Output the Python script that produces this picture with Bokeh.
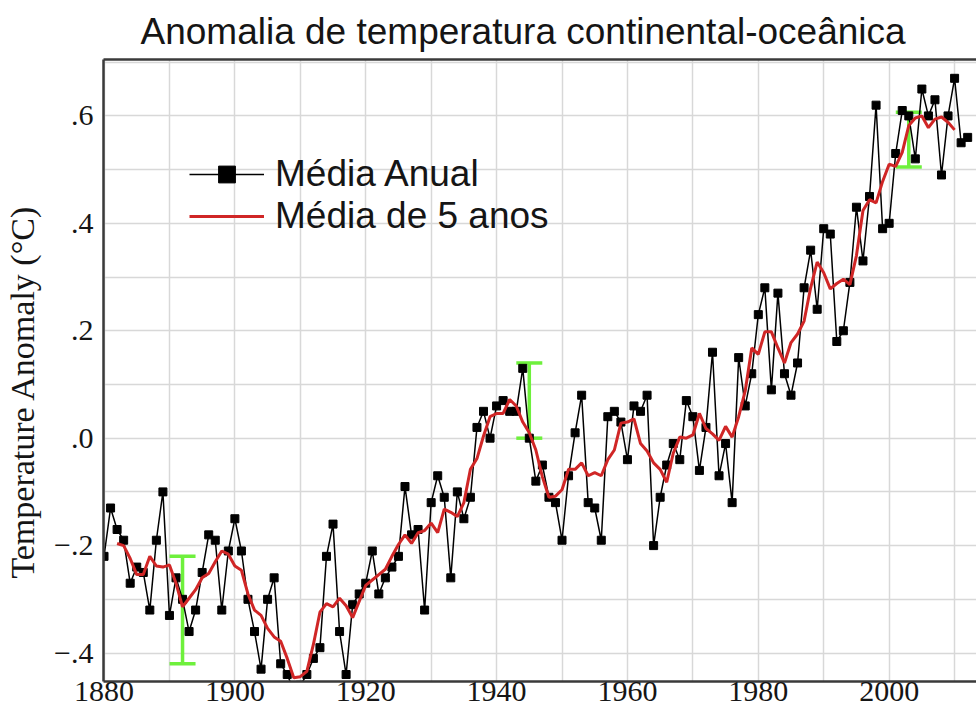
from bokeh.plotting import figure
from bokeh.models import (ColumnDataSource, Range1d, FixedTicker, Legend,
                          LegendItem, Whisker, TeeHead, LinearAxis)
from bokeh.embed import file_html
from bokeh.resources import INLINE

# ---------------- data ----------------
years = list(range(1880, 2013))
annual = [
    -0.22, -0.13, -0.17, -0.19, -0.27, -0.24, -0.25, -0.32, -0.19, -0.10,
    -0.33, -0.26, -0.30, -0.36, -0.32, -0.25, -0.18, -0.19, -0.32, -0.21,
    -0.15, -0.21, -0.30, -0.36, -0.43, -0.30, -0.26, -0.42, -0.44, -0.47,
    -0.46, -0.44, -0.41, -0.39, -0.22, -0.16, -0.36, -0.44, -0.31, -0.29,
    -0.27, -0.21, -0.29, -0.26, -0.24, -0.22, -0.09, -0.18, -0.17, -0.32,
    -0.12, -0.07, -0.11, -0.26, -0.10, -0.15, -0.11, 0.02, 0.05, 0.00,
    0.06, 0.07, 0.05, 0.05, 0.13, 0.00, -0.08, -0.05, -0.11, -0.12,
    -0.19, -0.07, 0.01, 0.08, -0.12, -0.13, -0.19, 0.04, 0.05, 0.03,
    -0.04, 0.06, 0.05, 0.08, -0.20, -0.11, -0.05, -0.01, -0.04, 0.07,
    0.04, -0.06, 0.02, 0.16, -0.07, -0.01, -0.12, 0.15, 0.06, 0.12,
    0.23, 0.28, 0.09, 0.27, 0.12, 0.08, 0.14, 0.28, 0.35, 0.24,
    0.39, 0.38, 0.18, 0.20, 0.29, 0.43, 0.33, 0.45, 0.62, 0.39,
    0.40, 0.53, 0.61, 0.60, 0.52, 0.65, 0.60, 0.63, 0.49, 0.60,
    0.67, 0.55, 0.56,
]

years5 = list(range(1882, 2011))
mean5 = [
    -0.196, -0.200, -0.224, -0.254, -0.254, -0.220, -0.238, -0.240,
    -0.236, -0.270, -0.314, -0.298, -0.282, -0.260, -0.252, -0.230, -0.210, -0.216,
    -0.238, -0.246, -0.290, -0.320, -0.330, -0.354, -0.370, -0.378, -0.410, -0.446,
    -0.444, -0.434, -0.384, -0.324, -0.308, -0.314, -0.298, -0.312, -0.334, -0.304,
    -0.274, -0.264, -0.254, -0.244, -0.220, -0.198, -0.180, -0.196, -0.176, -0.172,
    -0.158, -0.176, -0.132, -0.138, -0.146, -0.120, -0.058, -0.038, 0.004, 0.040,
    0.046, 0.046, 0.072, 0.060, 0.030, 0.010, -0.022, -0.072, -0.110, -0.108,
    -0.096, -0.058, -0.058, -0.046, -0.070, -0.064, -0.070, -0.040, -0.022, 0.028,
    0.030, 0.036, -0.010, -0.024, -0.046, -0.058, -0.082, -0.028, 0.002, 0.000,
    0.006, 0.046, 0.018, 0.008, -0.004, 0.022, 0.002, 0.040, 0.088, 0.168,
    0.156, 0.198, 0.198, 0.168, 0.140, 0.178, 0.194, 0.218, 0.280, 0.328,
    0.308, 0.278, 0.288, 0.296, 0.286, 0.340, 0.424, 0.444, 0.438, 0.478,
    0.510, 0.506, 0.532, 0.582, 0.596, 0.600, 0.578, 0.594, 0.598, 0.588,
    0.574,
]

err_years = [1892, 1945, 2003]
err_low = [-0.42, 0.00, 0.505]
err_high = [-0.22, 0.14, 0.607]

x_ticks = [1880, 1900, 1920, 1940, 1960, 1980, 2000]
x_grid = [1880, 1890, 1900, 1910, 1920, 1930, 1940, 1950, 1960, 1970, 1980, 1990, 2000, 2010]
y_ticks = [-0.4, -0.2, 0, 0.2, 0.4, 0.6]
y_tick_labels = ["\u2212.4", "\u2212.2", ".0", ".2", ".4", ".6"]
y_grid = [-0.4, -0.3, -0.2, -0.1, 0, 0.1, 0.2, 0.3, 0.4, 0.5, 0.6, 0.7]

title_text = "Anomalia de temperatura continental-oce\u00e2nica"
y_label_text = "Temperature Anomaly (\u00b0C)"
legend_labels = ["M\u00e9dia Anual", "M\u00e9dia de 5 anos"]

# ---------------- figure ----------------
X0, X1 = 1879.92, 2013.35
Y0, Y1 = -0.453, 0.705
FRAME = "#3a3a3a"

p = figure(width=976, height=715,
           x_range=Range1d(X0, X1), y_range=Range1d(Y0, Y1),
           output_backend="svg", toolbar_location=None,
           min_border_left=103, min_border_right=0, min_border_top=59, min_border_bottom=34)
p.background_fill_color = "white"
p.border_fill_color = "white"
p.outline_line_color = None

p.title.text = title_text
p.title.text_font = "Liberation Sans"
p.title.text_font_size = "37px"
p.title.text_font_style = "normal"
p.title.text_color = "#151515"
p.title.align = "left"
p.title.offset = 37
p.title.standoff = 16

# grid
p.xgrid.ticker = FixedTicker(ticks=x_grid)
p.ygrid.ticker = FixedTicker(ticks=y_grid)
p.grid.grid_line_color = "#d8d8d8"
p.grid.grid_line_width = 1.5

# bottom axis (its line is the frame's bottom edge)
xa = p.xaxis[0]
xa.ticker = FixedTicker(ticks=x_ticks)
xa.axis_line_color = FRAME
xa.axis_line_width = 2.5
xa.major_tick_line_color = None
xa.minor_tick_line_color = None
xa.major_tick_out = 0
xa.major_tick_in = 0
xa.minor_tick_out = 0
xa.major_label_standoff = 0
xa.major_label_text_font = "Liberation Serif"
xa.major_label_text_font_size = "30px"
xa.major_label_text_color = "#151515"

# left axis (its line is the frame's left edge)
ya = p.yaxis[0]
ya.ticker = FixedTicker(ticks=y_ticks)
ya.major_label_overrides = dict(zip(y_ticks, y_tick_labels))
ya.axis_line_color = FRAME
ya.axis_line_width = 2.5
ya.major_tick_line_color = None
ya.minor_tick_line_color = None
ya.major_tick_out = 0
ya.major_tick_in = 0
ya.minor_tick_out = 0
ya.major_label_standoff = 10
ya.major_label_text_font = "Liberation Serif"
ya.major_label_text_font_size = "30px"
ya.major_label_text_color = "#151515"
ya.axis_label = y_label_text + "\u00a0" * 5
ya.axis_label_standoff = 10
ya.axis_label_text_font = "Liberation Serif"
ya.axis_label_text_font_size = "34px"
ya.axis_label_text_font_style = "normal"
ya.axis_label_text_color = "#151515"

# top edge of the frame: an axis with no ticks and no labels
top_axis = LinearAxis(ticker=FixedTicker(ticks=[]), axis_line_color=FRAME, axis_line_width=2.5,
                      major_tick_out=0, major_tick_in=0, minor_tick_out=0, minor_tick_in=0,
                      major_label_standoff=0, major_tick_line_color=None,
                      minor_tick_line_color=None)
p.add_layout(top_axis, "above")

# error bars
err_src = ColumnDataSource(dict(x=err_years, lo=err_low, hi=err_high))
green = "#6ef03c"
whisk = Whisker(source=err_src, base="x", lower="lo", upper="hi", dimension="height",
                line_color=green, line_width=3.5, level="underlay",
                upper_head=TeeHead(size=26, line_color=green, line_width=3.5),
                lower_head=TeeHead(size=26, line_color=green, line_width=3.5))
p.add_layout(whisk)

src = ColumnDataSource(dict(year=years, anomaly=annual))
l1 = p.line("year", "anomaly", source=src, line_color="black", line_width=1.5)
s1 = p.scatter("year", "anomaly", source=src, marker="square", size=8,
               fill_color="black", line_color="black")
src5 = ColumnDataSource(dict(year=years5, mean=mean5))
l2 = p.line("year", "mean", source=src5, line_color="#d02626", line_width=3)

legend = Legend(items=[LegendItem(label=legend_labels[0], renderers=[l1, s1]),
                       LegendItem(label=legend_labels[1], renderers=[l2])],
                location=(86, 444), margin=0, padding=0, spacing=-8,
                glyph_width=75, glyph_height=42, label_height=42, label_standoff=11,
                border_line_color=None, background_fill_alpha=0,
                label_text_font="Liberation Sans", label_text_font_size="37px",
                label_text_color="#151515")
p.add_layout(legend)

open("out.html", "w").write(file_html(p, INLINE))
